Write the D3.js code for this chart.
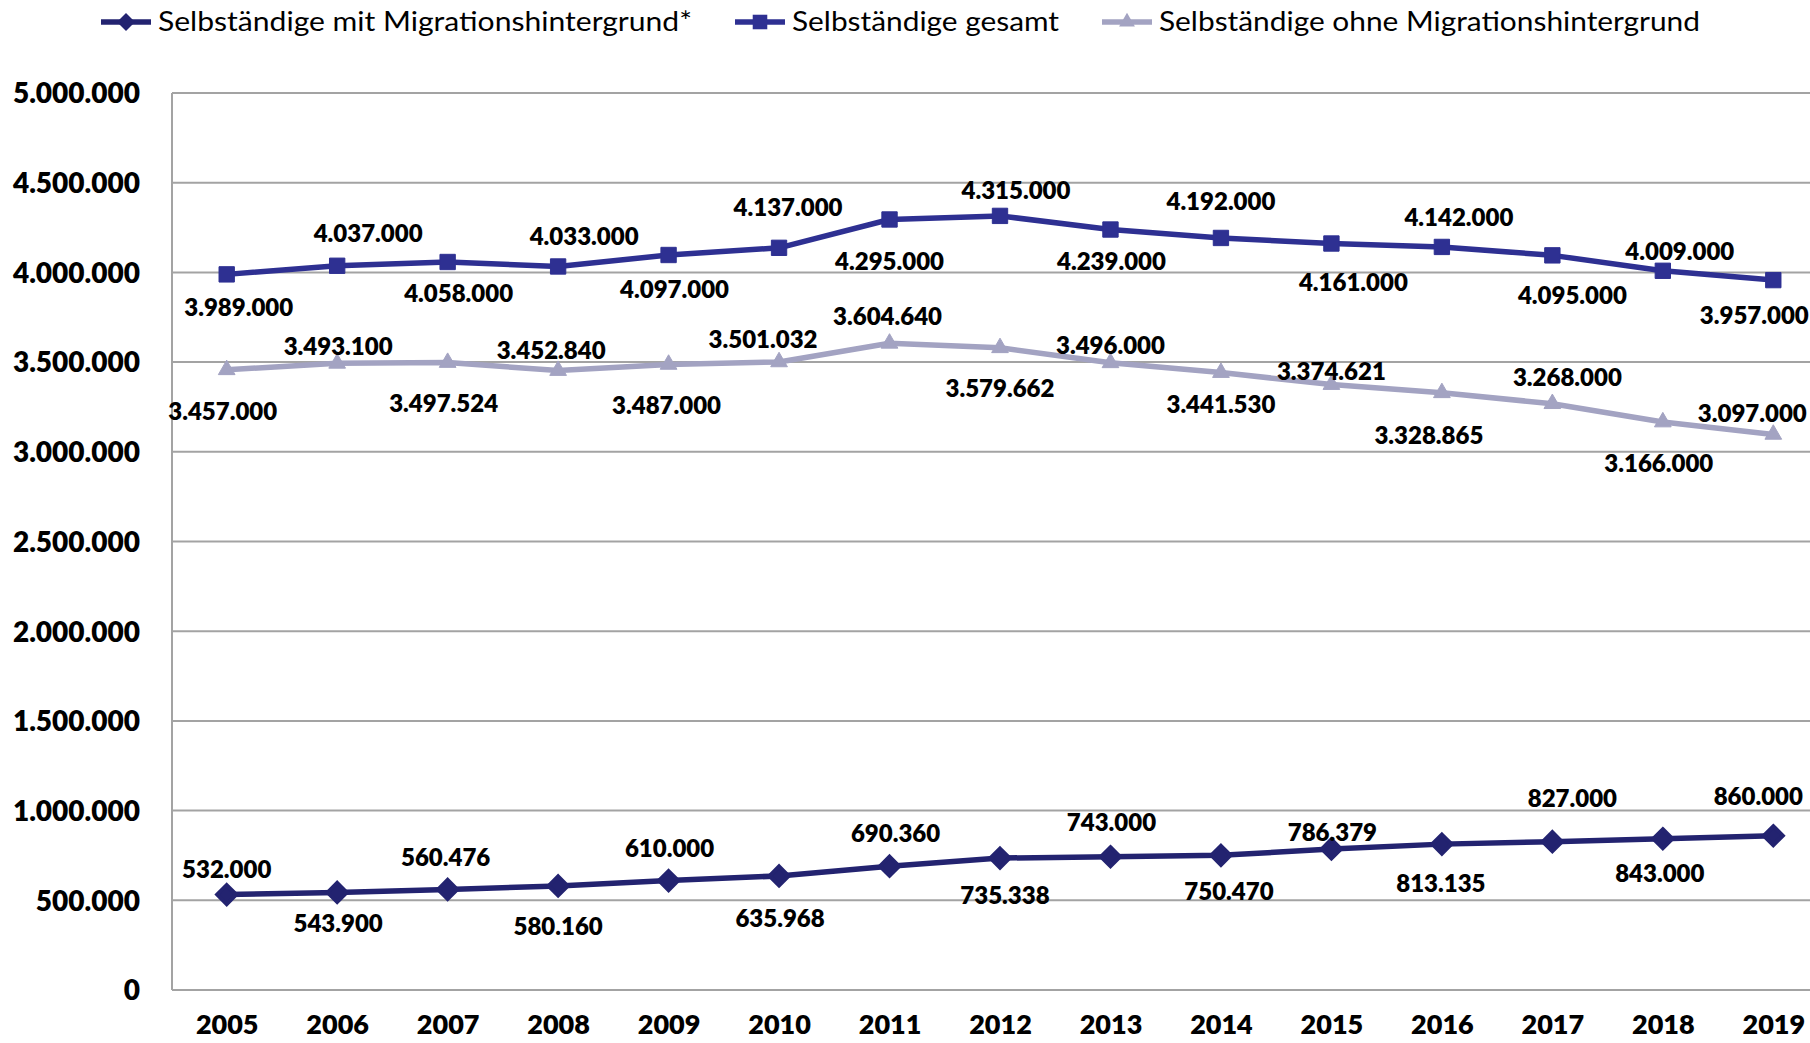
<!DOCTYPE html>
<html>
<head>
<meta charset="utf-8">
<script src="https://cdn.jsdelivr.net/npm/d3@7"></script>
<style>
  body { margin: 0; background: #fff; }
  svg { display: block; }
</style>
</head>
<body>
<svg id="chart"></svg>
<script>
// data
var years = ["2005","2006","2007","2008","2009","2010","2011","2012","2013","2014","2015","2016","2017","2018","2019"];
var mitMigration = [532000,543900,560476,580160,610000,635968,690360,735338,743000,750470,786379,813135,827000,843000,860000];
var gesamt = [3989000,4037000,4058000,4033000,4097000,4137000,4295000,4315000,4239000,4192000,4161000,4142000,4095000,4009000,3957000];
var ohneMigration = [3457000,3493100,3497524,3452840,3487000,3501032,3604640,3579662,3496000,3441530,3374621,3328865,3268000,3166000,3097000];
var seriesNames = ["Selbständige mit Migrationshintergrund*","Selbständige gesamt","Selbständige ohne Migrationshintergrund"];
var yTicks = [0,500000,1000000,1500000,2000000,2500000,3000000,3500000,4000000,4500000,5000000];

// label placement (offsets from the point, in px) - kept apart from the values
var labelOffsets = {
  mit:    [[0,-25],[1,31],[-2,-32],[0,41],[1,-32],[1,43],[6,-33],[5,38],[1,-34],[8,36],[1,-16],[-1,39],[20,-43],[-3,35],[-15,-39]],
  gesamt: [[12,33],[31,-32],[11,32],[26,-30],[6,35],[9,-40],[0,42],[16,-25],[1,32],[0,-36],[22,39],[17,-29],[20,40],[17,-19],[-19,35]],
  ohne:   [[-4,42],[1,-17],[-4,41],[-7,-20],[-2,41],[-16,-22],[-2,-27],[0,41],[0,-17],[0,32],[0,-13],[-13,43],[15,-26],[-4,42],[-21,-21]]
};

var W = 1810, H = 1043;
var plot = {left: 172, top: 93, bottom: 990, right: 1810};

var svg = d3.select("#chart").attr("width", W).attr("height", H);

var x = d3.scalePoint()
          .domain(years)
          .range([226.7, 1773.3]);

var y = d3.scaleLinear()
          .domain([0, 5000000])
          .range([plot.bottom, plot.top]);

var fmt = d3.formatLocale({decimal: ",", thousands: ".", grouping: [3], currency: ["", "€"]}).format(",d");

//////////grid + axes//////////
svg.append("g")
   .selectAll("line")
   .data(yTicks)
   .enter()
   .append("line")
   .attr("x1", plot.left)
   .attr("x2", plot.right)
   .attr("y1", function(d){ return y(d); })
   .attr("y2", function(d){ return y(d); })
   .attr("stroke", "#a3a3a3")
   .attr("stroke-width", 2);

svg.append("line")
   .attr("x1", plot.left).attr("x2", plot.left)
   .attr("y1", plot.top).attr("y2", plot.bottom)
   .attr("stroke", "#a3a3a3")
   .attr("stroke-width", 2);

var yAxis = svg.append("g")
   .attr("transform", "translate(" + (plot.left - 32) + ",0)")
   .call(d3.axisLeft(y).tickValues(yTicks).tickFormat(fmt).tickSize(0).tickPadding(0));
yAxis.select(".domain").remove();
yAxis.selectAll("text")
     .attr("font-family", "Lato, 'Open Sans', sans-serif")
     .attr("font-weight", 800)
     .attr("font-size", 28)
     .attr("fill", "#000")
     .attr("dy", "0.35em");

var xAxis = svg.append("g")
   .attr("transform", "translate(0," + plot.bottom + ")")
   .call(d3.axisBottom(x).tickSize(0).tickPadding(0));
xAxis.select(".domain").remove();
xAxis.selectAll("text")
     .attr("font-family", "Lato, 'Open Sans', sans-serif")
     .attr("font-weight", 800)
     .attr("font-size", 27)
     .attr("fill", "#000")
     .attr("y", 35)
     .attr("dy", "0.35em");

//////////series//////////
var series = [
  {key: "mit", name: seriesNames[0], values: mitMigration, color: "#232370", symbol: d3.symbolDiamond2, size: 230},
  {key: "gesamt", name: seriesNames[1], values: gesamt, color: "#2e3092", symbol: d3.symbolSquare2, size: 300},
  {key: "ohne", name: seriesNames[2], values: ohneMigration, color: "#a3a3c2", symbol: d3.symbolTriangle2, size: 200}
];

var line = d3.line()
             .x(function(d){ return x(d.year); })
             .y(function(d){ return y(d.value); });

series.forEach(function(s){
  var pts = years.map(function(yr, i){ return {year: yr, value: s.values[i], i: i}; });
  var g = svg.append("g").attr("class", "series-" + s.key);

  g.append("path")
   .datum(pts)
   .attr("d", line)
   .attr("fill", "none")
   .attr("stroke", s.color)
   .attr("stroke-width", 5.5)
   .attr("stroke-linejoin", "round");

  g.selectAll(".marker")
   .data(pts)
   .enter()
   .append("path")
   .attr("class", "marker")
   .attr("d", d3.symbol().type(s.symbol).size(s.size))
   .attr("fill", s.color)
   .attr("stroke", s.color)
   .attr("stroke-width", s.key == "mit" ? 4 : 1)
   .attr("transform", function(d){ return "translate(" + x(d.year) + "," + y(d.value) + ")"; });

  g.selectAll(".label")
   .data(pts)
   .enter()
   .append("text")
   .attr("class", "label")
   .attr("x", function(d){ return x(d.year) + labelOffsets[s.key][d.i][0]; })
   .attr("y", function(d){ return y(d.value) + labelOffsets[s.key][d.i][1]; })
   .attr("dy", "0.35em")
   .attr("text-anchor", "middle")
   .attr("font-family", "Lato, 'Open Sans', sans-serif")
   .attr("font-weight", 800)
   .attr("font-size", 24)
   .attr("fill", "#000")
   .text(function(d){ return fmt(d.value); });
});

//////////legend//////////
var legendPos = [{x: 101, w: 534}, {x: 735, w: 267}, {x: 1102, w: 541}];
var legend = svg.append("g").attr("transform", "translate(0,22)");
var item = legend.selectAll(".legenditem")
                 .data(series)
                 .enter()
                 .append("g")
                 .attr("class", "legenditem")
                 .attr("transform", function(d, i){ return "translate(" + legendPos[i].x + ",0)"; });

item.append("line")
    .attr("x1", 0).attr("x2", 50)
    .attr("stroke", function(d){ return d.color; })
    .attr("stroke-width", 5.5);

item.append("path")
    .attr("d", function(d){ return d3.symbol().type(d.symbol).size(d.size * 0.9)(); })
    .attr("fill", function(d){ return d.color; })
    .attr("transform", "translate(25,0)");

item.append("text")
    .attr("x", 57)
    .attr("dy", "0.35em")
    .attr("font-family", "Lato, 'Open Sans', sans-serif")
    .attr("font-size", 27)
    .attr("fill", "#000")
    .attr("textLength", function(d, i){ return legendPos[i].w; })
    .attr("lengthAdjust", "spacingAndGlyphs")
    .text(function(d){ return d.name; });
</script>
</body>
</html>
